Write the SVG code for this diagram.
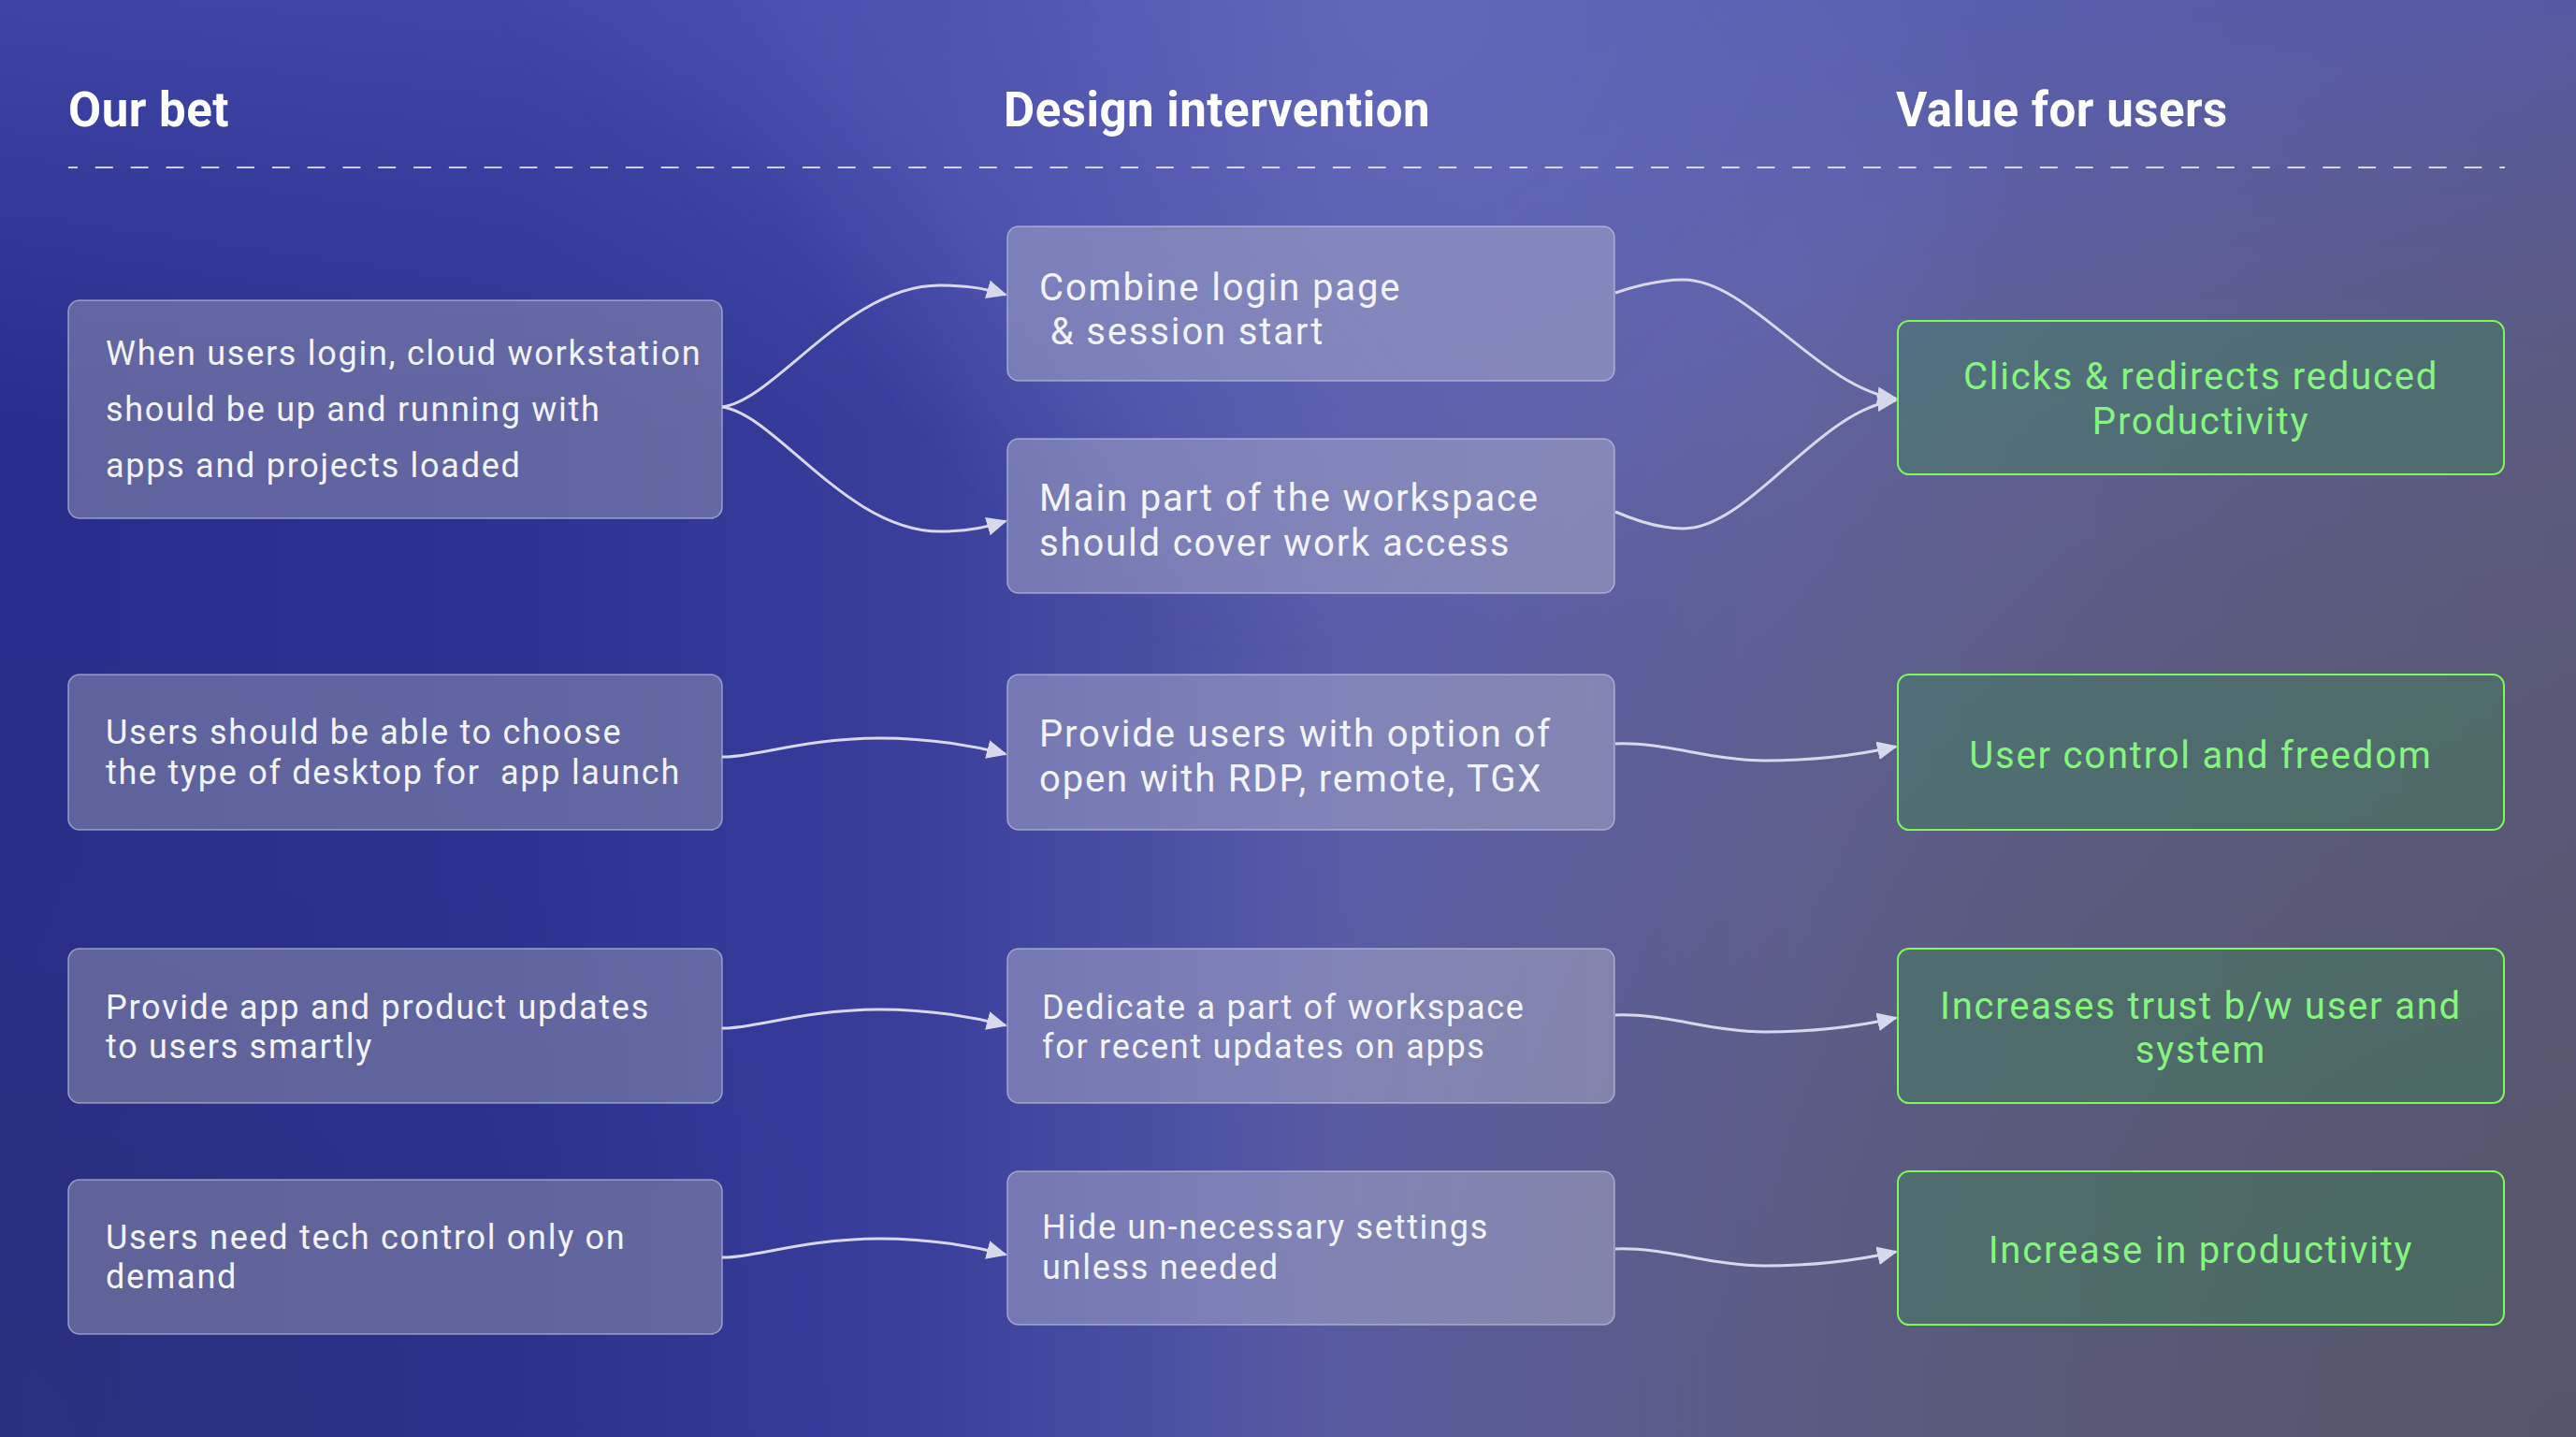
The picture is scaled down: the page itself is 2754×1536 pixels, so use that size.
<svg xmlns="http://www.w3.org/2000/svg" width="2754" height="1536" viewBox="0 0 2754 1536">
<defs>
<linearGradient id="bg" x1="0" y1="0" x2="1" y2="0">
<stop offset="0" stop-color="#282d8c"/>
<stop offset="0.2" stop-color="#2c3292"/>
<stop offset="0.36" stop-color="#3a3f9c"/>
<stop offset="0.52" stop-color="#585ca8"/>
<stop offset="0.7" stop-color="#6164a2"/>
<stop offset="1" stop-color="#5e5e88"/>
</linearGradient>
<linearGradient id="topLight" x1="0" y1="0" x2="0" y2="1">
<stop offset="0" stop-color="#5057b8" stop-opacity="0.55"/>
<stop offset="0.3" stop-color="#5057b8" stop-opacity="0"/>
</linearGradient>
<radialGradient id="glowTop" cx="1500" cy="0" r="700" gradientUnits="userSpaceOnUse">
<stop offset="0" stop-color="#6a6fc0" stop-opacity="0.6"/>
<stop offset="1" stop-color="#6a6fc0" stop-opacity="0"/>
</radialGradient>
<radialGradient id="grayBR" cx="2754" cy="1536" r="1500" gradientUnits="userSpaceOnUse">
<stop offset="0" stop-color="#56556a" stop-opacity="1"/>
<stop offset="0.5" stop-color="#56556a" stop-opacity="0.6"/>
<stop offset="1" stop-color="#56556a" stop-opacity="0"/>
</radialGradient>
<radialGradient id="darkBL" cx="0" cy="1536" r="900" gradientUnits="userSpaceOnUse">
<stop offset="0" stop-color="#2c3078" stop-opacity="0.7"/>
<stop offset="1" stop-color="#2c3078" stop-opacity="0"/>
</radialGradient>
<filter id="blur" x="-50%" y="-50%" width="200%" height="200%">
<feGaussianBlur stdDeviation="70"/>
</filter>
<marker id="arrow" markerUnits="userSpaceOnUse" markerWidth="24" markerHeight="22" refX="20" refY="10" orient="auto">
<path d="M0,0 L22,10 L0,20 Z" fill="#d8d8ec"/>
</marker>
<style>
.h{font-family:Roboto,"Liberation Sans",sans-serif;font-weight:700;font-size:51px;letter-spacing:0.5px;fill:#ffffff}
.t{font-family:Roboto,"Liberation Sans",sans-serif;fill:#f3f3fa}
.s36{font-size:36px;letter-spacing:1.72px}
.s40{font-size:40px;letter-spacing:1.85px}
.g{font-family:Roboto,"Liberation Sans",sans-serif;font-size:40px;letter-spacing:1.8px;fill:#86f57f;text-anchor:middle}
.b1{fill:#9698af;fill-opacity:0.5;stroke:#d2d2eb;stroke-opacity:0.6;stroke-width:1.5}
.b2{fill:#aaacc8;fill-opacity:0.5;stroke:#d2d2eb;stroke-opacity:0.6;stroke-width:1.5}
.b3{fill:#3c8c50;fill-opacity:0.35;stroke:#7dfa5a;stroke-width:2}
.c{fill:none;stroke:#d8d8ec;stroke-width:3;marker-end:url(#arrow)}
</style>
</defs>
<rect width="2754" height="1536" fill="url(#bg)"/>
<rect width="2754" height="1536" fill="url(#topLight)"/>
<rect width="2754" height="1536" fill="url(#glowTop)"/>
<rect width="2754" height="1536" fill="url(#darkBL)"/>
<rect width="2754" height="1536" fill="url(#grayBR)"/>
<path d="M600,-80 C850,120 1050,300 1250,560 L1450,560 C1250,300 1050,100 900,-80 Z" fill="#5a62bc" opacity="0.3" filter="url(#blur)"/>

<g id="headers">
<text class="h" x="73" y="135">Our bet</text>
<text class="h" x="1073" y="135">Design intervention</text>
<text class="h" x="2027" y="135">Value for users</text>
<line x1="73" y1="179" x2="2678" y2="179" stroke="#ffffff" stroke-width="1.5" stroke-dasharray="18.9 18.9" stroke-dashoffset="8.9"/>
</g>

<g id="connectors">
<path class="c" d="M772,435 C830,427 905,305 1005,305 C1040,305 1058,310 1075,315"/>
<path class="c" d="M772,435 C830,443 905,568 1005,568 C1040,568 1058,562 1075,557"/>
<path class="c" d="M1727,313 C1750,305 1775,299 1800,299 C1870,299 1945,415 2027,426"/>
<path class="c" d="M1727,547 C1750,557 1775,565 1800,565 C1870,565 1945,437 2027,428"/>
<path class="c" d="M772,809 C800,811 860,789 940,789 C990,789 1040,797 1075,806"/>
<path class="c" d="M1727,795 C1780,793 1830,813 1887,813 C1950,813 2000,804 2027,798"/>
<path class="c" d="M772,1099 C800,1101 860,1079 940,1079 C990,1079 1040,1087 1075,1096"/>
<path class="c" d="M1727,1085 C1780,1083 1830,1103 1887,1103 C1950,1103 2000,1094 2027,1088"/>
<path class="c" d="M772,1344 C800,1346 860,1324 940,1324 C990,1324 1040,1332 1075,1341"/>
<path class="c" d="M1727,1335 C1780,1333 1830,1353 1887,1353 C1950,1353 2000,1344 2027,1338"/>
</g>

<g id="bet1">
<rect class="b1" x="73" y="321" width="699" height="233" rx="12"/>
<text class="t s36" x="113" y="390">When users login, cloud workstation</text>
<text class="t s36" x="113" y="450">should be up and running with</text>
<text class="t s36" x="113" y="510">apps and projects loaded</text>
</g>
<g id="bet2">
<rect class="b1" x="73" y="721" width="699" height="166" rx="12"/>
<text class="t s36" x="113" y="795">Users should be able to choose</text>
<text class="t s36" x="113" y="838" xml:space="preserve">the type of desktop for  app launch</text>
</g>
<g id="bet3">
<rect class="b1" x="73" y="1014" width="699" height="165" rx="12"/>
<text class="t s36" x="113" y="1089">Provide app and product updates</text>
<text class="t s36" x="113" y="1131">to users smartly</text>
</g>
<g id="bet4">
<rect class="b1" x="73" y="1261" width="699" height="165" rx="12"/>
<text class="t s36" x="113" y="1335">Users need tech control only on</text>
<text class="t s36" x="113" y="1377">demand</text>
</g>

<g id="design1">
<rect class="b2" x="1077" y="242" width="649" height="165" rx="12"/>
<text class="t s40" x="1111" y="321">Combine login page</text>
<text class="t s40" x="1111" y="368" xml:space="preserve"> &amp; session start</text>
</g>
<g id="design2">
<rect class="b2" x="1077" y="469" width="649" height="165" rx="12"/>
<text class="t s40" x="1111" y="546">Main part of the workspace</text>
<text class="t s40" x="1111" y="594">should cover work access</text>
</g>
<g id="design3">
<rect class="b2" x="1077" y="721" width="649" height="166" rx="12"/>
<text class="t s40" x="1111" y="798">Provide users with option of</text>
<text class="t s40" x="1111" y="846">open with RDP, remote, TGX</text>
</g>
<g id="design4">
<rect class="b2" x="1077" y="1014" width="649" height="165" rx="12"/>
<text class="t s36" x="1114" y="1089">Dedicate a part of workspace</text>
<text class="t s36" x="1114" y="1131">for recent updates on apps</text>
</g>
<g id="design5">
<rect class="b2" x="1077" y="1252" width="649" height="164" rx="12"/>
<text class="t s36" x="1114" y="1324">Hide un-necessary settings</text>
<text class="t s36" x="1114" y="1367">unless needed</text>
</g>

<g id="value1">
<rect class="b3" x="2029" y="343" width="648" height="164" rx="12"/>
<text class="g" x="2353" y="416">Clicks &amp; redirects reduced</text>
<text class="g" x="2353" y="464">Productivity</text>
</g>
<g id="value2">
<rect class="b3" x="2029" y="721" width="648" height="166" rx="12"/>
<text class="g" x="2353" y="821">User control and freedom</text>
</g>
<g id="value3">
<rect class="b3" x="2029" y="1014" width="648" height="165" rx="12"/>
<text class="g" x="2353" y="1089">Increases trust b/w user and</text>
<text class="g" x="2353" y="1136">system</text>
</g>
<g id="value4">
<rect class="b3" x="2029" y="1252" width="648" height="164" rx="12"/>
<text class="g" x="2353" y="1350">Increase in productivity</text>
</g>
</svg>
